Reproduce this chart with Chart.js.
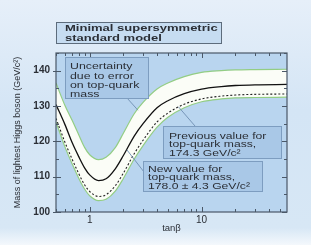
<!DOCTYPE html>
<html><head><meta charset="utf-8">
<script src="https://cdn.jsdelivr.net/npm/chart.js@4.4.1/dist/chart.umd.min.js"></script>
<style>html,body{margin:0;padding:0;background:#fff}canvas{display:block}</style>
</head><body>
<canvas id="c" width="311" height="245"></canvas>
<script>
// ---- data ----
const tanBeta   = [0.5, 0.6, 0.7, 0.8, 0.9, 1.0, 1.2, 1.4, 1.7, 2.0, 2.5, 3, 4, 5, 7, 10, 15, 20, 30, 58];
const bandUpper = [136.5,130.2,125.8,121.8,118.3,116.2,114.8,115.5,118.3,122.3,127.8,131.0,134.8,136.5,138.3,139.5,140.0,140.2,140.3,140.4];
const newValue  = [130.4,124.8,119.5,115.6,112.5,110.5,108.9,109.4,112.3,116.0,121.5,125.0,129.5,131.5,133.5,134.8,135.5,135.8,136.0,136.1];
const prevValue = [126.5,119.8,114.8,110.8,107.7,105.8,104.4,104.9,107.5,111.0,116.5,120.3,125.5,128.0,130.5,132.0,132.8,133.1,133.3,133.4];
const bandLower = [125.5,118.5,113.5,109.5,106.5,104.6,103.2,103.6,106.0,109.5,115.0,118.8,124.0,126.8,129.5,131.2,132.0,132.3,132.4,132.5];

const xTickValues  = [0.5,0.6,0.7,0.8,0.9,1,2,3,4,5,6,7,8,9,10,20,30,40,50];
const xLabelValues = [1, 10];
const yLabelStep   = 10;

const titleLines       = ['Minimal supersymmetric', 'standard model'];
const uncertaintyLines = ['Uncertainty', 'due to error', 'on top-quark', 'mass'];
const previousLines    = ['Previous value for', 'top-quark mass,', '174.3 GeV/c\u00b2'];
const newLines         = ['New value for', 'top-quark mass,', '178.0 \u00b1 4.3 GeV/c\u00b2'];

const pts = arr => tanBeta.map((x, i) => ({x, y: arr[i]}));

const TXT = '#2b2f36';
const BOXFILL = '#a9c8e7';
const BOXLINE = '#7d9dc0';
const LEADER = '#6f8fb2';

function drawLines(ctx, lines, x, baselines, font, sx) {
  ctx.font = font;
  ctx.fillStyle = TXT;
  ctx.textBaseline = 'alphabetic';
  ctx.textAlign = 'left';
  lines.forEach((t, i) => {
    ctx.save();
    ctx.translate(x, baselines[i]);
    ctx.scale(sx, 1);
    ctx.fillText(t, 0, 0);
    ctx.restore();
  });
}
function box(ctx, x0, y0, x1, y1, fill, line) {
  ctx.fillStyle = fill;
  ctx.fillRect(x0, y0, x1 - x0, y1 - y0);
  ctx.strokeStyle = line;
  ctx.lineWidth = 1;
  ctx.strokeRect(x0 + 0.5, y0 + 0.5, x1 - x0 - 1, y1 - y0 - 1);
}
function leader(ctx, x0, y0, x1, y1) {
  ctx.strokeStyle = LEADER;
  ctx.lineWidth = 0.9;
  ctx.beginPath(); ctx.moveTo(x0, y0); ctx.lineTo(x1, y1); ctx.stroke();
}

const decor = {
  id: 'decor',
  beforeDraw(chart) {
    const {ctx, chartArea: a, width, height} = chart;
    ctx.save();
    const g = ctx.createLinearGradient(0, 0, 0, height);
    g.addColorStop(0, '#e6eff9');
    g.addColorStop(0.45, '#d4e5f5');
    g.addColorStop(0.93, '#d7e7f5');
    g.addColorStop(1, '#f4f8fc');
    ctx.fillStyle = g;
    ctx.fillRect(0, 0, width, height);
    ctx.fillStyle = '#b9d5ef';
    ctx.fillRect(a.left, a.top, a.right - a.left, a.bottom - a.top);
    ctx.restore();
  },
  afterDatasetsDraw(chart) {
    const {ctx, chartArea: a, scales: {x, y}} = chart;
    ctx.save();
    // frame
    ctx.strokeStyle = '#4a5868';
    ctx.lineWidth = 1.2;
    ctx.strokeRect(a.left, a.top, a.right - a.left, a.bottom - a.top);
    // ticks
    ctx.lineWidth = 1;
    ctx.beginPath();
    x.ticks.forEach(t => {
      const px = Math.round(x.getPixelForValue(t.value)) + 0.5;
      const len = xLabelValues.includes(t.value) ? 5 : 3;
      ctx.moveTo(px, a.bottom); ctx.lineTo(px, a.bottom - len);
      ctx.moveTo(px, a.top); ctx.lineTo(px, a.top + len);
    });
    y.ticks.forEach(t => {
      const py = Math.round(y.getPixelForValue(t.value)) + 0.5;
      const major = t.value % yLabelStep === 0;
      const len = major ? 5 : 3;
      ctx.moveTo(a.left - (major ? 3 : 0), py); ctx.lineTo(a.left + len, py);
      ctx.moveTo(a.right, py); ctx.lineTo(a.right - len, py);
    });
    ctx.stroke();

    // annotations: leader lines pointing at the curves (data coordinates)
    leader(ctx, 127, 98, x.getPixelForValue(2.7), y.getPixelForValue(128.8));
    leader(ctx, 195, 126, x.getPixelForValue(6.2), y.getPixelForValue(129.8));
    leader(ctx, 144, 172, x.getPixelForValue(2.15), y.getPixelForValue(117.6));

    // title box
    box(ctx, 56, 22, 222, 44, '#c6dcf1', '#5d6c7c');
    drawLines(ctx, titleLines, 65, [31, 40.5], 'bold 9.5px "Liberation Sans", Arial, sans-serif', 1.37);

    box(ctx, 65, 57, 149, 99, BOXFILL, BOXLINE);
    drawLines(ctx, uncertaintyLines, 70, [69, 78.8, 88, 96.5], '9.5px "Liberation Sans", Arial, sans-serif', 1.3);

    box(ctx, 163, 126, 282, 159, BOXFILL, BOXLINE);
    drawLines(ctx, previousLines, 169, [138.5, 147, 155.5], '9.5px "Liberation Sans", Arial, sans-serif', 1.28);

    box(ctx, 143, 161, 263, 192, BOXFILL, BOXLINE);
    drawLines(ctx, newLines, 148, [171.8, 180.2, 188.6], '9.5px "Liberation Sans", Arial, sans-serif', 1.28);
    ctx.restore();
  }
};

const GREEN = '#93cd84';
new Chart(document.getElementById('c'), {
  type: 'line',
  data: {
    datasets: [
      {label: 'Band upper', data: pts(bandUpper), borderColor: GREEN, borderWidth: 1.2,
       backgroundColor: '#fbfdf7', fill: 3, pointRadius: 0, cubicInterpolationMode: 'monotone'},
      {label: 'New value 178.0', data: pts(newValue), borderColor: '#111', borderWidth: 1.3,
       fill: false, pointRadius: 0, cubicInterpolationMode: 'monotone'},
      {label: 'Previous value 174.3', data: pts(prevValue), borderColor: '#222', borderWidth: 1.1,
       borderDash: [2, 2], fill: false, pointRadius: 0, cubicInterpolationMode: 'monotone'},
      {label: 'Band lower', data: pts(bandLower), borderColor: GREEN, borderWidth: 1.2,
       fill: false, pointRadius: 0, cubicInterpolationMode: 'monotone'}
    ]
  },
  options: {
    responsive: false,
    animation: false,
    devicePixelRatio: 1,
    layout: {padding: {left: 0, top: 53, right: 24, bottom: 0}},
    plugins: {legend: {display: false}, tooltip: {enabled: false},
      filler: {drawTime: 'beforeDatasetsDraw'}},
    scales: {
      x: {
        type: 'logarithmic', min: 0.5, max: 58,
        grid: {display: false, drawTicks: false}, border: {display: false},
        afterBuildTicks: s => { s.ticks = xTickValues.map(v => ({value: v})); },
        afterFit: s => { s.height = 33; },
        ticks: {autoSkip: false, maxRotation: 0, padding: 2, color: TXT,
          font: {family: '"Liberation Sans", Arial, sans-serif', size: 10},
          callback: v => xLabelValues.includes(v) ? String(v) : ''},
        title: {display: true, text: 'tan\u03b2', color: TXT,
          font: {family: '"Liberation Sans", Arial, sans-serif', size: 9.5},
          padding: {top: 0, bottom: 11}}
      },
      y: {
        min: 100, max: 145,
        grid: {display: false, drawTicks: false}, border: {display: false},
        afterFit: s => { s.width = 56; },
        ticks: {stepSize: 5, padding: 6, color: TXT,
          font: {family: '"Liberation Sans", Arial, sans-serif', size: 10, weight: 'bold'},
          callback: v => v % yLabelStep === 0 ? String(v) : ''},
        title: {display: true, text: 'Mass of lightest Higgs boson (GeV/c\u00b2)', color: TXT,
          font: {family: '"Liberation Sans", Arial, sans-serif', size: 9},
          padding: {top: 12.5, bottom: 0}}
      }
    }
  },
  plugins: [decor]
});
</script>
</body></html>
